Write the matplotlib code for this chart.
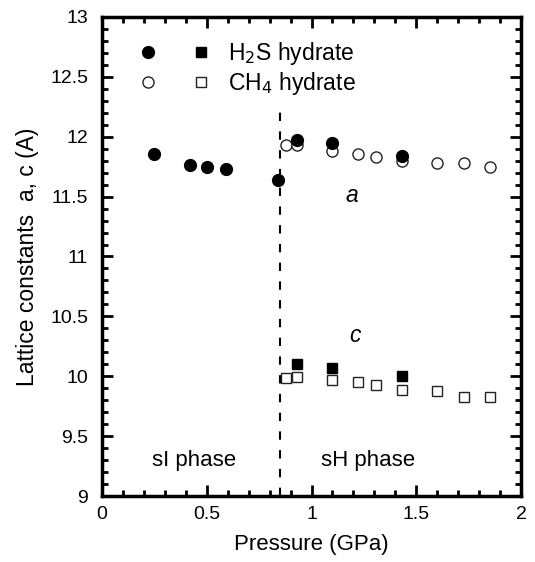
import matplotlib
matplotlib.use("Agg")
import matplotlib.pyplot as plt
from matplotlib.legend_handler import HandlerTuple
from matplotlib.ticker import MultipleLocator, FuncFormatter

plt.rcParams['font.family'] = ['Liberation Sans', 'DejaVu Sans']

# sI phase, H2S hydrate (lattice constant a)
p_si = [0.25, 0.42, 0.50, 0.59, 0.84]
a_si = [11.86, 11.76, 11.75, 11.73, 11.64]

# sH phase, H2S hydrate
p_h2s = [0.93, 1.10, 1.43]
a_h2s = [11.97, 11.945, 11.84]
c_h2s = [10.10, 10.07, 10.005]

# sH phase, CH4 hydrate
p_ch4 = [0.88, 0.93, 1.10, 1.22, 1.31, 1.43, 1.60, 1.73, 1.85]
a_ch4 = [11.935, 11.93, 11.88, 11.855, 11.83, 11.80, 11.78, 11.78, 11.745]
c_ch4 = [9.985, 9.99, 9.97, 9.955, 9.925, 9.885, 9.875, 9.825, 9.825]

p_boundary = 0.85

fig = plt.figure(figsize=(5.35, 5.62), dpi=100)
ax = fig.add_axes([0.1907, 0.1174, 0.7831, 0.8524])

open_kw = dict(ls='none', mfc='white', mec='#222222', mew=1.0)
ch4_a, = ax.plot(p_ch4, a_ch4, marker='o', ms=8, **open_kw)
ch4_c, = ax.plot(p_ch4, c_ch4, marker='s', ms=7, **open_kw)

h2s_si, = ax.plot(p_si, a_si, 'o', color='black', ms=8.5)
h2s_a, = ax.plot(p_h2s, a_h2s, 'o', color='black', ms=8.5)
h2s_c, = ax.plot(p_h2s, c_h2s, 's', color='black', ms=7)

# phase boundary, stops below the legend
ax.vlines(p_boundary, 9, 12.26, color='black', lw=1.5, ls=(0, (4, 5)))

ax.text(1.195, 11.51, 'a', fontsize=16.5, style='italic', ha='center', va='center')
ax.text(1.21, 10.34, 'c', fontsize=16.5, style='italic', ha='center', va='center')
ax.text(0.44, 9.3, 'sI phase', fontsize=16, ha='center', va='center')
ax.text(1.27, 9.3, 'sH phase', fontsize=16, ha='center', va='center')

leg = ax.legend([(h2s_a, h2s_c), (ch4_a, ch4_c)],
                ['H$_2$S hydrate', 'CH$_4$ hydrate'],
                handler_map={tuple: HandlerTuple(ndivide=None, pad=1.88)},
                loc='center left', bbox_to_anchor=(0.098, 0.8925), frameon=False,
                fontsize=16.5, handlelength=2.75, handletextpad=0.96,
                labelspacing=0.12, borderpad=0, borderaxespad=0)

ax.set_xlim(0, 2)
ax.set_ylim(9, 13)
ax.xaxis.set_major_locator(MultipleLocator(0.5))
ax.xaxis.set_minor_locator(MultipleLocator(0.1))
ax.yaxis.set_major_locator(MultipleLocator(0.5))
ax.yaxis.set_minor_locator(MultipleLocator(0.1))
ax.xaxis.set_major_formatter(FuncFormatter(lambda v, _: f'{v:g}'))
ax.yaxis.set_major_formatter(FuncFormatter(lambda v, _: f'{v:g}'))
ax.tick_params(which='both', direction='in', top=True, right=True, labelsize=14)
ax.tick_params(which='major', length=8, width=2)
ax.tick_params(which='minor', length=4, width=2)
ax.tick_params(axis='x', pad=7)
ax.tick_params(axis='y', pad=10)
for s in ax.spines.values():
    s.set_linewidth(2.5)

ax.set_xlabel('Pressure (GPa)', fontsize=16, labelpad=8)
ax.set_ylabel('Lattice constants  a, c (A)', fontsize=16.5, labelpad=8)

fig.savefig('out.png', dpi=100)
